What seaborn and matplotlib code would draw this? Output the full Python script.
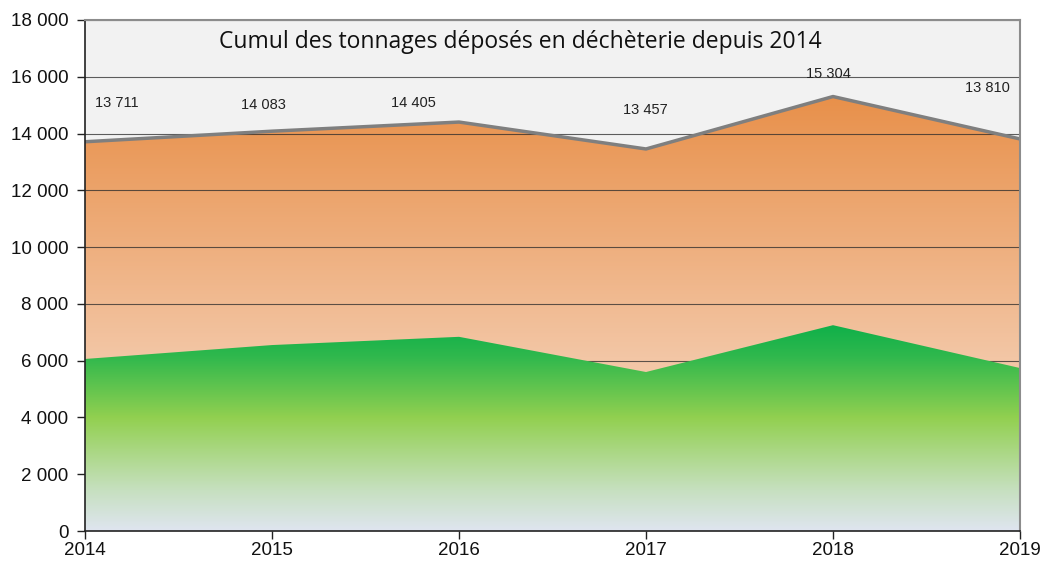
import numpy as np
import pandas as pd
import seaborn as sns
import matplotlib.pyplot as plt
from matplotlib.colors import LinearSegmentedColormap
from matplotlib.ticker import FuncFormatter

# === Data ===
years = [2014, 2015, 2016, 2017, 2018, 2019]
total = [13711, 14083, 14405, 13457, 15304, 13810]
green = [6060, 6550, 6840, 5600, 7250, 5740]
# label offsets in pixels (dx, dy) from each point
label_offsets = [(32, 39), (-9, 26), (-46, 19), (-1, 39), (-5, 23), (-33, 51)]

df = pd.DataFrame({"year": years, "total": total, "green": green})

sns.set_style("white")
plt.rcParams["font.family"] = ["Liberation Sans", "DejaVu Sans"]

fig = plt.figure(figsize=(10.44, 5.62), dpi=100)
ax = fig.add_axes([85 / 1044, 31 / 562, 935 / 1044, 511 / 562])
ax.set_facecolor("#f2f2f2")


def gradient_fill(ax, x, y, stops, zorder):
    # polygon from fill_between, then gradient image clipped to it
    poly = ax.fill_between(x, 0, y, facecolor="none", edgecolor="none", zorder=zorder)
    cmap = LinearSegmentedColormap.from_list("g", stops)
    grad = np.linspace(0, 1, 256).reshape(-1, 1)
    img = ax.imshow(grad, cmap=cmap, aspect="auto", origin="lower",
                    extent=[2014, 2019, 0, max(y)], zorder=zorder)
    img.set_clip_path(poly.get_paths()[0], transform=ax.transData)


orange_stops = [(0.0, "#f7d8c2"), (0.4, "#f3c6a5"), (1.0, "#e8904a")]
green_stops = [(0.0, "#dfe5f0"), (0.2, "#c6e0bf"), (0.55, "#92d050"), (0.85, "#2fb84d"), (1.0, "#0fb04a")]

gradient_fill(ax, df["year"], df["total"], orange_stops, 1)
gradient_fill(ax, df["year"], df["green"], green_stops, 3)
ax.set_xlim(2014, 2019)
ax.set_ylim(0, 18000)

sns.lineplot(data=df, x="year", y="total", color="#7f7f7f", linewidth=2.5, ax=ax, zorder=4)

# gridlines (under the green area, over the orange one)
for yv in range(2000, 18001, 2000):
    ax.axhline(yv, color="#2a2a2a", linewidth=0.8, alpha=0.75, zorder=2)

# data labels
for xv, yv, (dx, dy) in zip(years, total, label_offsets):
    ax.annotate(f"{yv:,}".replace(",", " "), (xv, yv), xytext=(dx * 0.72, dy * 0.72),
                textcoords="offset points", ha="center", va="center",
                fontsize=10.5, color="#222222", zorder=5)

ax.text(0.466, 0.957, "Cumul des tonnages déposés en déchèterie depuis 2014",
        transform=ax.transAxes, ha="center", va="center", fontsize=16.5,
        family=["Open Sans", "DejaVu Sans"], color="#111111", zorder=6)

ax.set_xticks(years)
ax.set_yticks(range(0, 18001, 2000))
ax.yaxis.set_major_formatter(FuncFormatter(lambda v, p: f"{int(v):,}".replace(",", " ")))
ax.tick_params(axis="both", which="major", direction="out", length=6, width=1,
               labelsize=13.5, color="#222222", labelcolor="#111111", left=True, bottom=True)
ax.tick_params(axis="y", pad=6)
ax.tick_params(axis="x", pad=2)
ax.set_xlabel("")
ax.set_ylabel("")

for s in ["left", "bottom"]:
    ax.spines[s].set_color("#222222")
    ax.spines[s].set_linewidth(1.2)
for s in ["top", "right"]:
    ax.spines[s].set_color("#8c8c8c")
    ax.spines[s].set_linewidth(1.5)
for s in ax.spines.values():
    s.set_zorder(7)

fig.savefig("out.png", dpi=100)
